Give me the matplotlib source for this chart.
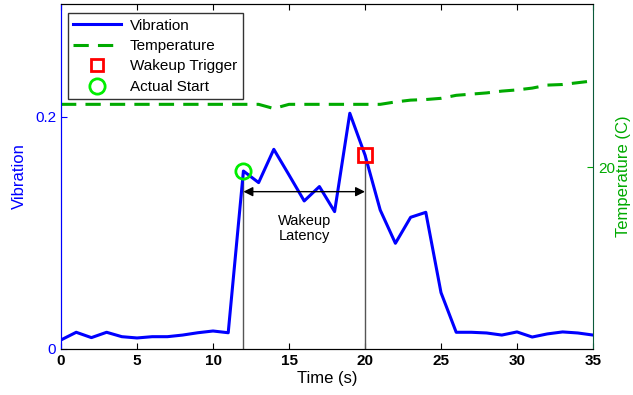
import numpy as np
import matplotlib.pyplot as plt
from matplotlib.lines import Line2D

plt.rcParams['font.family'] = ['Liberation Sans', 'DejaVu Sans']

# time axis (s)
t = np.arange(0, 36)

# vibration readings
vib = [0.0078, 0.0144, 0.0098, 0.0144, 0.0106, 0.0095, 0.0106, 0.0106, 0.012, 0.014,
       0.0155, 0.014, 0.1534, 0.1434, 0.1721, 0.150, 0.1276, 0.140, 0.1184, 0.2032,
       0.1672, 0.1198, 0.0911, 0.1135, 0.1178, 0.0486, 0.0144, 0.0144, 0.0138, 0.012,
       0.0147, 0.0103, 0.013, 0.0147, 0.0138, 0.012]

# temperature readings (C)
temp = [21.05, 21.05, 21.05, 21.05, 21.05, 21.05, 21.05, 21.05, 21.05, 21.05,
        21.05, 21.05, 21.05, 21.05, 20.98, 21.05, 21.05, 21.05, 21.05, 21.05,
        21.05, 21.05, 21.09, 21.12, 21.13, 21.15, 21.20, 21.22, 21.24, 21.27,
        21.29, 21.32, 21.37, 21.38, 21.41, 21.44]

t_start = 12
t_trigger = 20

blue = '#0000ff'
green = '#00aa00'
dash = (0, (5, 3))

fig = plt.figure(figsize=(6.33, 3.95), dpi=100)
ax = fig.add_axes([0.0964, 0.1165, 0.8404, 0.8735])
ax2 = ax.twinx()

ax.plot(t, vib, color=blue, lw=2.2, zorder=3)
ax2.plot(t, temp, color=green, lw=2.2, ls=dash)

v_start = vib[t.tolist().index(t_start)]
v_trig = vib[t.tolist().index(t_trigger)]

# markers
ax.plot(t_trigger, v_trig, 's', ms=10, mfc='none', mec='#ff0000', mew=2, zorder=5)
ax.plot(t_start, v_start, 'o', ms=11, mfc='none', mec='#00ee00', mew=2, zorder=5)

# vertical guides
ax.plot([t_start, t_start], [0, v_start], color='#555555', lw=1, zorder=2)
ax.plot([t_trigger, t_trigger], [0, v_trig], color='#555555', lw=1, zorder=2)

# latency arrow
ax.annotate('', xy=(t_start, 0.1356), xytext=(t_trigger, 0.1356),
            arrowprops=dict(arrowstyle='<|-|>', color='black', lw=1,
                            mutation_scale=14, shrinkA=0, shrinkB=0))
ax.text(16, 0.104, 'Wakeup\nLatency', ha='center', va='center', fontsize=10.5,
        linespacing=1.1)

ax.set_xlim(0, 35)
ax.set_ylim(0, 0.2974)
ax2.set_ylim(16.98, 22.72)

ax.set_xticks([0, 5, 10, 15, 20, 25, 30, 35])
ax.set_yticks([0, 0.2])
ax.set_yticklabels(['0', '0.2'])
ax2.set_yticks([20])

ax.tick_params(axis='x', direction='in', top=True, labelsize=11, length=4,
               colors='black')
for lab in ax.get_xticklabels():
    lab.set_fontweight('bold')
ax.tick_params(axis='y', direction='in', labelsize=11, length=4, colors=blue)
ax2.tick_params(axis='y', direction='in', labelsize=11, length=4, colors=green)

ax.spines['left'].set_color(blue)
ax2.spines['left'].set_color(blue)
ax2.spines['right'].set_color('#0b5a3a')
ax.spines['right'].set_visible(False)

ax.set_xlabel('Time (s)', fontsize=12, labelpad=2)
ax.set_ylabel('Vibration', fontsize=12, color=blue, labelpad=6)
ax2.set_ylabel('Temperature (C)', fontsize=12, color=green, labelpad=1)

handles = [
    Line2D([], [], color=blue, lw=2.2),
    Line2D([], [], color=green, lw=2.2, ls=dash),
    Line2D([], [], ls='none', marker='s', ms=9, mfc='none', mec='#ff0000', mew=2),
    Line2D([], [], ls='none', marker='o', ms=11, mfc='none', mec='#00ee00', mew=2),
]
labels = ['Vibration', 'Temperature', 'Wakeup Trigger', 'Actual Start']
leg = ax2.legend(handles, labels, loc='upper left', bbox_to_anchor=(0.0132, 0.973),
                 fontsize=11, frameon=True, fancybox=False, edgecolor='black',
                 borderpad=0.35, labelspacing=0.42, handlelength=3.1,
                 handletextpad=0.6, borderaxespad=0)
leg.get_frame().set_linewidth(1)

fig.savefig('out.png', dpi=100)
